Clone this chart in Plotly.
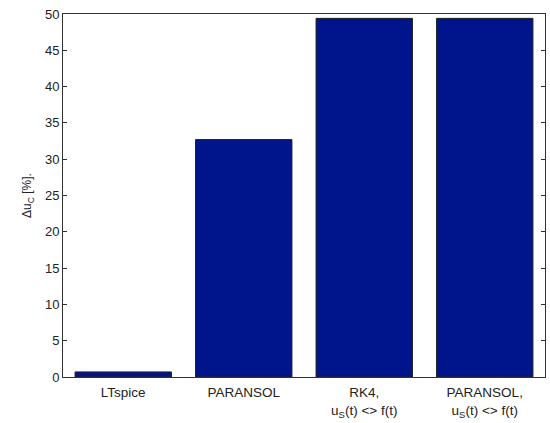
import plotly.graph_objects as go

categories = ["LTspice", "PARANSOL", "RK4,<br>u<sub>S</sub>(t) &lt;&gt; f(t)",
              "PARANSOL,<br>u<sub>S</sub>(t) &lt;&gt; f(t)"]
values = [0.7, 32.7, 49.4, 49.4]
y_ticks = [0, 5, 10, 15, 20, 25, 30, 35, 40, 45, 50]

fig = go.Figure(go.Bar(
    x=list(range(len(categories))), y=values, width=0.8,
    marker=dict(color="rgb(0,20,140)", line=dict(color="#222222", width=1)),
))

fam = "Liberation Sans, Arial, sans-serif"
fig.update_layout(
    width=550, height=423, margin=dict(l=62.5, r=3.5, t=14, b=44),
    paper_bgcolor="white", plot_bgcolor="white", showlegend=False,
    font=dict(family=fam, size=13, color="#222222"),
    xaxis=dict(range=[-0.5, 3.5], tickmode="array", tickvals=list(range(len(categories))),
               ticktext=categories, showgrid=False, zeroline=False, showline=True,
               linecolor="#333333", linewidth=1, mirror=True, ticks="",
               tickfont=dict(size=13.5), ticklabelstandoff=3),
    yaxis=dict(range=[0, 50], tickmode="array", tickvals=y_ticks, showgrid=False,
               zeroline=False, showline=True, linecolor="#333333", linewidth=1,
               mirror="ticks", ticks="inside", ticklen=4, tickcolor="#333333",
               tickfont=dict(size=13),
               title=dict(text="Δu<sub>C</sub> [%].", standoff=10, font=dict(size=12))),
)
fig.write_html("out.html", config={"displayModeBar": False},
               post_script="document.body.style.margin='0';")
